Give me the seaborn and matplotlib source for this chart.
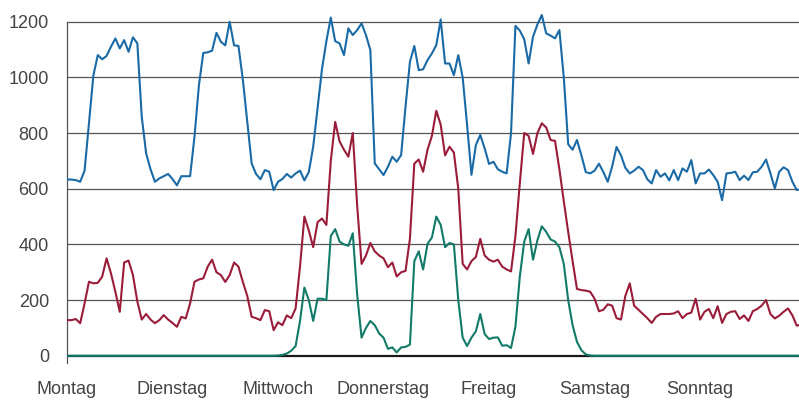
import numpy as np
import pandas as pd
import matplotlib
matplotlib.use("Agg")
import matplotlib.pyplot as plt
import seaborn as sns

days = ["Montag", "Dienstag", "Mittwoch", "Donnerstag", "Freitag", "Samstag", "Sonntag"]
y_ticks = [0, 200, 400, 600, 800, 1000, 1200]

blue = [
    633, 633, 631, 625, 665, 836, 1007, 1080, 1065, 1077,
    1110, 1140, 1104, 1134, 1092, 1144, 1122, 859, 727, 670,
    625, 637, 645, 653, 635, 612, 645, 645, 645, 787,
    971, 1088, 1090, 1096, 1160, 1128, 1115, 1200, 1115, 1113,
    992, 841, 691, 653, 634, 667, 661, 595, 625, 635,
    653, 640, 655, 665, 630, 660, 751, 890, 1030, 1130,
    1215, 1130, 1122, 1080, 1176, 1152, 1170, 1194, 1152, 1098,
    691, 670, 649, 679, 715, 697, 721, 895, 1056, 1113,
    1026, 1029, 1062, 1086, 1116, 1208, 1050, 1050, 1008, 1080,
    1000, 830, 650, 757, 793, 745, 689, 697, 670, 661,
    655, 800, 1185, 1168, 1137, 1050, 1146, 1190, 1224, 1158,
    1150, 1140, 1170, 1000, 760, 740, 775, 720, 660, 655,
    665, 690, 660, 625, 680, 750, 720, 675, 655, 665,
    679, 667, 634, 619, 667, 643, 655, 630, 667, 631,
    673, 661, 703, 619, 655, 655, 669, 649, 625, 559,
    655, 657, 661, 631, 647, 631, 659, 661, 679, 705,
    655, 601, 661, 677, 667, 625, 595, 600,
]

red = [
    128, 128, 132, 117, 188, 266, 260, 262, 284, 350,
    296, 230, 158, 335, 342, 290, 195, 130, 150, 130,
    117, 128, 146, 130, 118, 104, 140, 134, 188, 266,
    274, 278, 320, 345, 300, 290, 265, 290, 335, 320,
    265, 215, 140, 135, 128, 164, 160, 92, 120, 110,
    145, 135, 170, 320, 500, 450, 390, 480, 493, 470,
    700, 840, 770, 740, 715, 800, 540, 330, 360, 405,
    375, 360, 350, 318, 335, 285, 300, 305, 420, 690,
    705, 661, 740, 790, 880, 830, 720, 751, 730, 600,
    330, 310, 340, 355, 420, 360, 345, 338, 345, 320,
    310, 303, 430, 620, 800, 790, 725, 800, 835, 820,
    775, 772, 670, 555, 445, 340, 240, 236, 234, 230,
    205, 160, 165, 185, 180, 135, 130, 215, 260, 180,
    165, 150, 135, 118, 140, 150, 150, 150, 152, 160,
    135, 150, 155, 205, 130, 158, 168, 135, 178, 118,
    150, 158, 160, 132, 145, 125, 160, 168, 180, 200,
    150, 134, 144, 158, 170, 145, 108, 112,
]

green = [0] * 48 + [
    1, 3, 8, 18, 35, 125, 245, 200, 125, 205,
    205, 200, 430, 455, 410, 400, 395, 440, 220, 65,
    100, 125, 110, 80, 65, 25, 30, 12, 30, 32,
    40, 340, 375, 310, 402, 425, 500, 470, 390, 405,
    400, 200, 65, 35, 65, 88, 150, 78, 60, 65,
    66, 36, 38, 28, 105, 285, 410, 455, 345, 415,
    465, 445, 418, 410, 390, 330, 200, 110, 50, 20,
    5, 1,
] + [0] * 48

hours = np.arange(len(blue))
series_names = ["Gesamt", "Rot", "Grün"]
colors = {"Gesamt": "#1a6aa6", "Rot": "#9b1c39", "Grün": "#127a68"}

df = pd.DataFrame({
    "Stunde": np.concatenate([hours, hours, hours]),
    "Wert": np.concatenate([blue, red, green]),
    "Serie": np.repeat(series_names, len(hours)),
})

sns.set_style("white")
plt.rcParams["font.family"] = ["Liberation Sans", "DejaVu Sans"]

fig = plt.figure(figsize=(7.99, 4.01), dpi=100)
ymin, ymax = -26, 1240
px_per_unit = (355.7 - 21.7) / 1200
top_px = 21.7 - (ymax - 1200) * px_per_unit
ax = fig.add_axes([67 / 799, 1 - 363 / 401, 1 - 67 / 799, (363 - top_px) / 401])

for yv in y_ticks[1:]:
    ax.axhline(yv, color="#555555", lw=0.9, zorder=1)
ax.axhline(0, color="#1a1a1a", lw=1.6, zorder=1)

sns.lineplot(data=df, x="Stunde", y="Wert", hue="Serie", palette=colors,
             hue_order=series_names, linewidth=1.5, legend=False, ax=ax, zorder=3)

ax.set_xlim(0, 166.5)
ax.set_ylim(ymin, ymax)
ax.set_xlabel("")
ax.set_ylabel("")
ax.set_yticks(y_ticks)
ax.set_yticklabels([str(v) for v in y_ticks])
ax.set_xticks([24 * i for i in range(7)])
ax.set_xticklabels(days)

for s in ["top", "right", "bottom"]:
    ax.spines[s].set_visible(False)
ax.spines["left"].set_color("#555555")
ax.spines["left"].set_linewidth(0.9)
ax.spines["left"].set_bounds(ymin, 1200)

ax.tick_params(axis="y", length=0, pad=13, labelsize=13, labelcolor="#444444")
ax.tick_params(axis="x", direction="in", length=4.6, width=0.9, color="#777777",
               pad=13, labelsize=13, labelcolor="#444444")
ax.grid(False)

fig.savefig("out.png", dpi=100)
